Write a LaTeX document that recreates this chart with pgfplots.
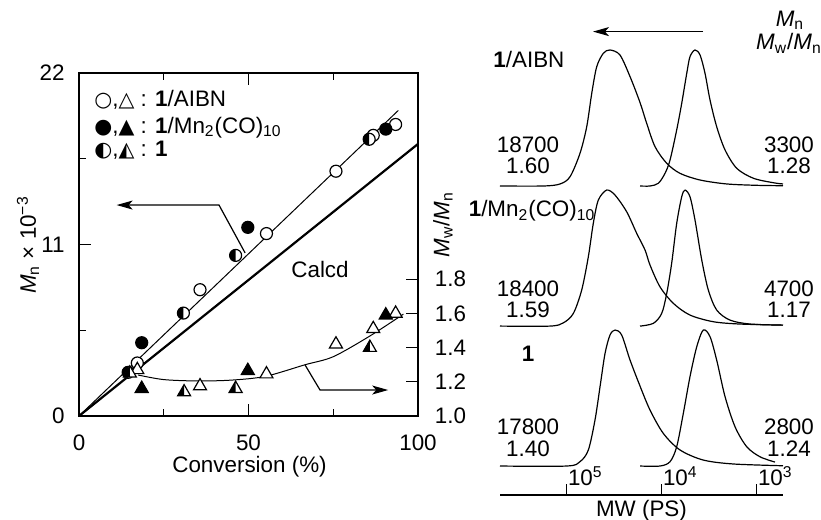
\documentclass[border=0pt]{standalone}
\usepackage{fontspec}
\setmainfont{Liberation Sans}
\newfontfamily\sym[Scale=0.92]{DejaVu Sans}
\usepackage{pgfplots}
\pgfplotsset{compat=1.18}
\usetikzlibrary{arrows.meta}

% plot marks: open / filled / left-half-filled circles and triangles
\pgfdeclareplotmark{wcirc}{\pgfpathcircle{\pgfpointorigin}{\pgfplotmarksize}\pgfsetfillcolor{white}\pgfusepathqfillstroke}
\pgfdeclareplotmark{bcirc}{\pgfpathcircle{\pgfpointorigin}{\pgfplotmarksize}\pgfsetfillcolor{black}\pgfusepathqfillstroke}
\pgfdeclareplotmark{hcirc}{%
  \pgfpathcircle{\pgfpointorigin}{\pgfplotmarksize}\pgfsetfillcolor{white}\pgfusepathqfillstroke
  \pgfpathmoveto{\pgfqpoint{0pt}{\pgfplotmarksize}}\pgfpatharc{90}{270}{\pgfplotmarksize}\pgfpathclose
  \pgfsetfillcolor{black}\pgfusepathqfill}
\newcommand\tripath{%
  \pgfpathmoveto{\pgfqpoint{0pt}{\pgfplotmarksize}}%
  \pgfpathlineto{\pgfqpoint{-0.866\pgfplotmarksize}{-0.5\pgfplotmarksize}}%
  \pgfpathlineto{\pgfqpoint{0.866\pgfplotmarksize}{-0.5\pgfplotmarksize}}\pgfpathclose}
\pgfdeclareplotmark{wtri}{\tripath\pgfsetfillcolor{white}\pgfusepathqfillstroke}
\pgfdeclareplotmark{btri}{\tripath\pgfsetfillcolor{black}\pgfusepathqfillstroke}
\pgfdeclareplotmark{htri}{%
  \tripath\pgfsetfillcolor{white}\pgfusepathqfillstroke
  \pgfpathmoveto{\pgfqpoint{0pt}{\pgfplotmarksize}}%
  \pgfpathlineto{\pgfqpoint{-0.866\pgfplotmarksize}{-0.5\pgfplotmarksize}}%
  \pgfpathlineto{\pgfqpoint{0pt}{-0.5\pgfplotmarksize}}\pgfpathclose
  \pgfsetfillcolor{black}\pgfusepathqfill}

\begin{document}
\fontsize{11.2}{13}\selectfont
\begin{tikzpicture}[font=\fontsize{11.2}{13}\selectfont]
\path[use as bounding box] (0,0) rectangle (410.5pt,260pt);

% ---- Mn vs conversion ----
\begin{axis}[
  at={(39.5pt,52pt)}, anchor=south west,
  width=169.5pt, height=171.5pt, scale only axis,
  xmin=0, xmax=100, ymin=0, ymax=22,
  xtick={0,50,100}, minor xtick={25,75},
  ytick={0,11,22}, minor ytick={5.5,16.5},
  ytick pos=left,
  tick align=inside,
  major tick length=6pt, minor tick length=3.5pt,
  tick style={black, line width=0.6pt},
  axis line style={line width=0.7pt},
  /pgf/number format/assume math mode=true,
  xticklabel style={yshift=-5.5pt},
  yticklabel style={xshift=-3.3pt},
  xlabel={Conversion (\%)},
  xlabel style={at={(axis description cs:0.503,0)}, anchor=center, yshift=-25.5pt},
  ylabel={\textit{M}\textsubscript{n} × 10\textsuperscript{−3}},
  ylabel style={at={(axis description cs:-0.1504,0.4985)}, anchor=center},
  clip=false,
]
\addplot[line width=0.5pt] coordinates {(0,0) (94.2,19.6)};
\addplot[line width=1.1pt] coordinates {(0,0) (100,17.45)};
\addplot[only marks, mark=wcirc, mark size=3pt, mark options={line width=0.6pt}] coordinates {
  (17.2,3.4) (35.7,8.1) (55.3,11.7) (75.8,15.7) (86.8,18.0) (93.4,18.7)};
\addplot[only marks, mark=bcirc, mark size=3pt, mark options={line width=0.6pt}] coordinates {
  (18.5,4.7) (49.8,12.1) (90.5,18.4)};
\addplot[only marks, mark=hcirc, mark size=3pt, mark options={line width=0.6pt}] coordinates {
  (14.5,2.8) (30.8,6.6) (46.2,10.3) (85.6,17.75)};
\draw[-{Stealth[length=8pt,width=4.5pt,inset=2pt]}, line width=0.6pt]
  (axis cs:49.0,10.46) -- (axis cs:41.3,13.53) -- (axis cs:11.1,13.53);
\node at (axis cs:71.1,9.41) {Calcd};
\node[anchor=base west, inner sep=0] at (axis cs:4.42,19.88) {{\sym ○},{\sym △} : \textbf{1}/AIBN};
\node[anchor=base west, inner sep=0] at (axis cs:4.42,18.13) {{\sym ●},{\sym ▲} : \textbf{1}/Mn\textsubscript{2}(CO)\textsubscript{10}};
\node[anchor=base west, inner sep=0] at (axis cs:4.42,16.63) {{\sym ◐},{\sym ◭} : \textbf{1}};
\end{axis}

% ---- Mw/Mn on the right axis ----
\begin{axis}[
  at={(39.5pt,52pt)}, anchor=south west,
  width=169.5pt, height=171.5pt, scale only axis,
  xmin=0, xmax=100, ymin=1, ymax=3.007,
  axis x line=none, axis y line*=right,
  ytick={1,1.2,1.4,1.6,1.8},
  tick align=inside, major tick length=6pt,
  tick style={black, line width=0.6pt},
  axis line style={line width=0.7pt, -},
  yticklabel style={/pgf/number format/.cd, fixed, fixed zerofill, precision=1, assume math mode=true, /tikz/.cd, xshift=4.5pt},
  ylabel={\textit{M}\textsubscript{w}/\textit{M}\textsubscript{n}},
  ylabel style={at={(axis description cs:1.0737,0.558)}, anchor=center},
  clip=false,
]
\addplot[smooth, line width=0.5pt] coordinates {
  (17.4,1.24) (25,1.213) (35,1.205) (45,1.21) (55,1.232) (66.7,1.30) (75,1.347) (85.8,1.468) (95.7,1.596)};
\addplot[only marks, mark=wtri, mark size=3.75pt, mark options={line width=0.6pt}] coordinates {
  (17.2,1.27) (35.7,1.175) (55.3,1.245) (75.8,1.42) (86.8,1.51) (93.4,1.60)};
\addplot[only marks, mark=btri, mark size=3.75pt, mark options={line width=0.6pt}] coordinates {
  (18.5,1.16) (49.8,1.265) (90.5,1.59)};
\addplot[only marks, mark=htri, mark size=3.75pt, mark options={line width=0.6pt}] coordinates {
  (15.0,1.25) (31.0,1.14) (46.2,1.16) (85.8,1.40)};
\draw[-{Stealth[length=8pt,width=4.5pt,inset=2pt]}, line width=0.6pt]
  (axis cs:66.7,1.298) -- (axis cs:71.1,1.152) -- (axis cs:91.2,1.152);
\end{axis}

% ---- GPC traces ----
\begin{axis}[
  at={(250pt,12.5pt)}, anchor=south west,
  width=141.5pt, height=222.5pt, scale only axis,
  xmin=2.716, xmax=5.695, x dir=reverse,
  ymin=-0.213, ymax=3.059,
  axis y line=none, axis x line*=bottom,
  axis line style={line width=0.6pt, -},
  xtick={5,4,3},
  xticklabels={10\textsuperscript{5},10\textsuperscript{4},10\textsuperscript{3}},
  tick align=inside, major tick length=5.5pt,
  tick style={black, line width=0.5pt},
  xticklabel style={anchor=south west, inner sep=0pt, yshift=4.5pt, xshift=0.8pt},
  xlabel={MW (PS)},
  xlabel style={at={(axis description cs:0.5,0)}, anchor=north, inner sep=0pt, yshift=-2.5pt},
  clip=false,
]
% 1/AIBN
\addplot[smooth, line width=0.6pt] table[y expr=\thisrow{h}+2.059] {
logM h
5.695 0
5.239 0
5.063 0.015
4.958 0.068
4.853 0.240
4.782 0.436
4.729 0.682
4.677 0.877
4.607 0.976
4.537 1.000
4.432 0.963
4.326 0.804
4.221 0.614
4.151 0.461
4.063 0.289
3.940 0.167
3.800 0.093
3.589 0.044
3.308 0.015
2.993 0.005
2.716 0.002
};
\addplot[smooth, line width=0.6pt] table[y expr=\thisrow{h}+2.059] {
logM h
4.221 0
4.116 0
4.028 0.020
3.958 0.093
3.905 0.191
3.835 0.412
3.782 0.608
3.729 0.829
3.695 0.951
3.642 1.000
3.589 0.963
3.537 0.829
3.484 0.632
3.414 0.436
3.326 0.265
3.203 0.130
3.028 0.057
2.818 0.024
2.716 0.015
};
% 1/Mn2(CO)10
\addplot[smooth, line width=0.6pt] table[y expr=\thisrow{h}+1.029] {
logM h
5.695 0
5.168 0
5.028 0.024
4.923 0.093
4.835 0.265
4.765 0.510
4.713 0.755
4.660 0.926
4.572 1.000
4.484 0.963
4.361 0.840
4.256 0.682
4.168 0.559
4.116 0.449
4.011 0.289
3.870 0.167
3.695 0.081
3.449 0.032
3.168 0.015
2.716 0.007
};
\addplot[smooth, line width=0.6pt] table[y expr=\thisrow{h}+1.029] {
logM h
4.221 0
4.081 0.020
3.993 0.093
3.940 0.240
3.888 0.461
3.835 0.755
3.782 0.951
3.747 1.000
3.695 0.951
3.642 0.779
3.571 0.485
3.502 0.265
3.414 0.118
3.274 0.044
3.063 0.015
2.716 0.007
};
% 1
\addplot[smooth, line width=0.6pt] table {
logM h
5.695 0
4.993 0
4.853 0.032
4.765 0.118
4.695 0.338
4.642 0.583
4.589 0.829
4.537 0.963
4.484 1.000
4.414 0.963
4.326 0.779
4.221 0.588
4.116 0.412
3.976 0.240
3.800 0.118
3.555 0.044
3.239 0.015
2.716 0.002
};
\addplot[smooth, line width=0.6pt] table {
logM h
4.221 0
4.011 0
3.905 0.032
3.835 0.142
3.765 0.388
3.695 0.657
3.624 0.877
3.555 1.000
3.484 0.951
3.414 0.779
3.326 0.510
3.221 0.289
3.098 0.142
2.958 0.068
2.800 0.029
};
\end{axis}

% labels of the GPC panel
\draw[-{Stealth[length=8pt,width=4.5pt,inset=2pt]}, line width=0.6pt] (351.5pt,244.2pt) -- (296.5pt,244.2pt);
\node[anchor=base, inner sep=0] at (395pt,246.8pt) {\textit{M}\textsubscript{n}};
\node[anchor=base, inner sep=0] at (394.5pt,235pt) {\textit{M}\textsubscript{w}/\textit{M}\textsubscript{n}};
\node[anchor=base west, inner sep=0] at (246.5pt,226pt) {\textbf{1}/AIBN};
\node[anchor=base, inner sep=0] at (264pt,183.5pt) {18700};
\node[anchor=base, inner sep=0] at (264pt,173pt) {1.60};
\node[anchor=base, inner sep=0] at (394.5pt,183.5pt) {3300};
\node[anchor=base, inner sep=0] at (394.5pt,173pt) {1.28};
\node[anchor=base west, inner sep=0] at (234.2pt,151.7pt) {\textbf{1}/Mn\textsubscript{2}(CO)\textsubscript{10}};
\node[anchor=base, inner sep=0] at (264pt,111.7pt) {18400};
\node[anchor=base, inner sep=0] at (264pt,101pt) {1.59};
\node[anchor=base, inner sep=0] at (394.5pt,111.7pt) {4700};
\node[anchor=base, inner sep=0] at (394.5pt,101pt) {1.17};
\node[anchor=base, inner sep=0] at (264pt,79.2pt) {\textbf{1}};
\node[anchor=base, inner sep=0] at (264pt,42.5pt) {17800};
\node[anchor=base, inner sep=0] at (264pt,31.7pt) {1.40};
\node[anchor=base, inner sep=0] at (394.5pt,42.5pt) {2800};
\node[anchor=base, inner sep=0] at (394.5pt,31.7pt) {1.24};
\end{tikzpicture}
\end{document}
